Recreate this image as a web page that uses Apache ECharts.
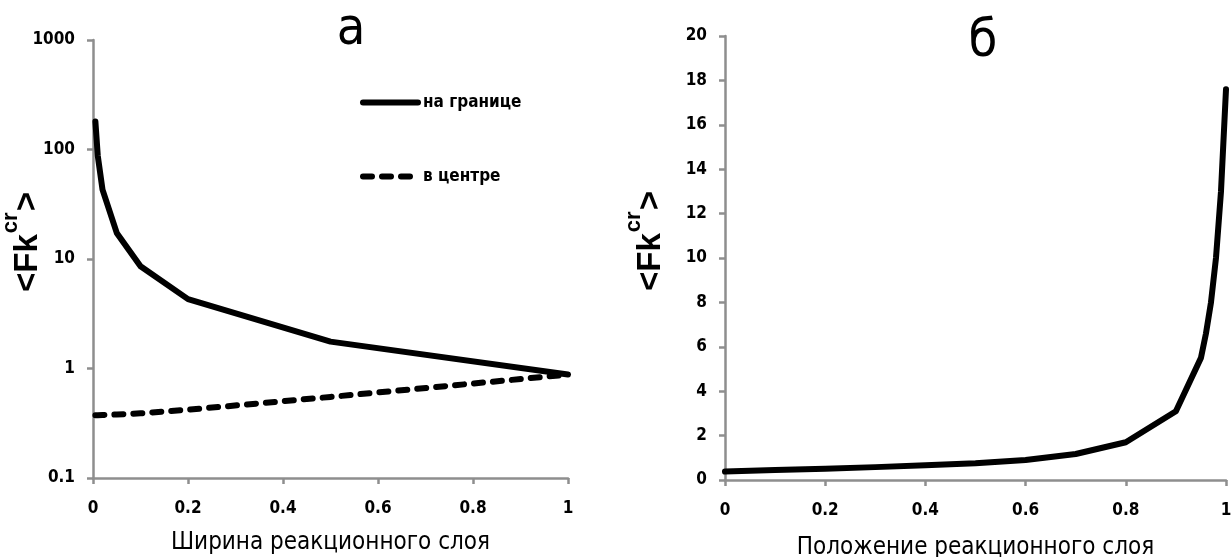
<!DOCTYPE html>
<html>
<head>
<meta charset="utf-8">
<script src="https://cdn.jsdelivr.net/npm/echarts@6/dist/echarts.min.js"></script>
<style>
html,body{margin:0;padding:0;background:#fff;}
#c{width:1232px;height:557px;}
</style>
</head>
<body>
<div id="c"></div>
<script>
// Panel а: log scale
const xA = [0.005, 0.01, 0.02, 0.05, 0.1, 0.2, 0.5, 1];
const boundaryA = [180, 88, 43, 17.3, 8.6, 4.3, 1.76, 0.88];
const centerA = [0.375, 0.375, 0.376, 0.38, 0.39, 0.42, 0.55, 0.88];
const yTicksA = [0.1, 1, 10, 100, 1000];
// Panel б
const xB = [0, 0.1, 0.2, 0.3, 0.4, 0.5, 0.6, 0.7, 0.8, 0.9, 0.95, 0.96, 0.97, 0.98, 0.99, 1];
const valB = [0.38, 0.45, 0.51, 0.58, 0.66, 0.75, 0.9, 1.17, 1.7, 3.1, 5.5, 6.6, 8.0, 10.0, 13.0, 17.6];

const seriesNames = ['на границе', 'в центре'];
const titles = ['а', 'б'];
const xNames = ['Ширина реакционного слоя', 'Положение реакционного слоя'];

const NARROW = "'Liberation Sans Narrow','DejaVu Sans Condensed','Arial Narrow',sans-serif";
const AXIS_GRAY = '#8e8e8e';

function zip(xs, ys) { return xs.map((x, i) => [x, ys[i]]); }

const axisCommon = {
  axisLine: { show: true, onZero: false, lineStyle: { color: AXIS_GRAY, width: 2.5 } },
  axisTick: { show: true, inside: false, length: 6, lineStyle: { color: AXIS_GRAY, width: 2.5 } },
  splitLine: { show: false },
  axisLabel: { color: '#000', fontFamily: NARROW, fontWeight: 'bold', fontSize: 17 }
};

const yName = '{b|<Fk}{s|cr}{b|>}';
const yRich = {
  b: { fontSize: 33, fontWeight: 'bold', fontFamily: "'Liberation Sans',Arial,sans-serif", color: '#000', lineHeight: 44, verticalAlign: 'bottom' },
  s: { fontSize: 22, fontWeight: 'bold', fontFamily: "'Liberation Sans',Arial,sans-serif", color: '#000', lineHeight: 44, verticalAlign: 'top', padding: [0, 1, 0, 1] }
};

const chart = echarts.init(document.getElementById('c'), null, { renderer: 'canvas' });
chart.setOption({
  backgroundColor: '#fff',
  animation: false,
  title: [
    { text: titles[0], left: 346, top: -1, textAlign: 'center',
      textStyle: { fontFamily: NARROW, fontWeight: 'normal', fontSize: 52, color: '#000' } },
    { text: titles[1], left: 978, top: 11, textAlign: 'center',
      textStyle: { fontFamily: NARROW, fontWeight: 'normal', fontSize: 52, color: '#000' } }
  ],
  legend: {
    left: 360, top: 94, padding: 0, orient: 'vertical', itemWidth: 55, itemHeight: 16, itemGap: 57,
    textStyle: { fontFamily: NARROW, fontWeight: 'bold', fontSize: 17, color: '#000' },
    itemStyle: { opacity: 0 },
    lineStyle: { width: 6, cap: 'round' },
    data: seriesNames
  },
  grid: [
    { left: 93, right: 1232 - 568, top: 40, bottom: 557 - 478, containLabel: false, outerBoundsMode: 'none' },
    { left: 725, right: 1232 - 1226, top: 36, bottom: 557 - 480, containLabel: false, outerBoundsMode: 'none' }
  ],
  xAxis: [
    Object.assign({}, axisCommon, {
      gridIndex: 0, type: 'value', min: 0, max: 1, interval: 0.2,
      name: xNames[0], nameLocation: 'middle', nameGap: 53,
      nameTextStyle: { fontFamily: NARROW, fontSize: 24, color: '#000' },
      axisLabel: Object.assign({}, axisCommon.axisLabel, { margin: 22 })
    }),
    Object.assign({}, axisCommon, {
      gridIndex: 1, type: 'value', min: 0, max: 1, interval: 0.2,
      name: xNames[1], nameLocation: 'middle', nameGap: 56,
      nameTextStyle: { fontFamily: NARROW, fontSize: 24, color: '#000' },
      axisLabel: Object.assign({}, axisCommon.axisLabel, { margin: 22 })
    })
  ],
  yAxis: [
    Object.assign({}, axisCommon, {
      gridIndex: 0, type: 'log', logBase: 10, min: yTicksA[0], max: yTicksA[yTicksA.length - 1],
      name: yName, nameLocation: 'middle', nameGap: 49, nameRotate: 90, nameMoveOverlap: false,
      nameTextStyle: { rich: yRich, padding: [0, 0, 0, 34] },
      axisLabel: Object.assign({}, axisCommon.axisLabel, {
        margin: 18,
        formatter: v => String(+Number(v).toPrecision(6))
      })
    }),
    Object.assign({}, axisCommon, {
      gridIndex: 1, type: 'value', min: 0, max: 20, interval: 2,
      name: yName, nameLocation: 'middle', nameGap: 58, nameRotate: 90, nameMoveOverlap: false,
      nameTextStyle: { rich: yRich, padding: [0, 0, 0, 34] },
      axisLabel: Object.assign({}, axisCommon.axisLabel, { margin: 18 })
    })
  ],
  series: [
    { name: seriesNames[0], type: 'line', xAxisIndex: 0, yAxisIndex: 0, showSymbol: false, symbol: 'none',
      data: zip(xA, boundaryA), lineStyle: { color: '#000', width: 6, cap: 'round', join: 'round' }, itemStyle: { color: '#000' } },
    { name: seriesNames[1], type: 'line', xAxisIndex: 0, yAxisIndex: 0, showSymbol: false, symbol: 'none',
      data: zip(xA, centerA), lineStyle: { color: '#000', width: 6, type: [9, 10], cap: 'round', join: 'round' }, itemStyle: { color: '#000' } },
    { name: 'б', type: 'line', xAxisIndex: 1, yAxisIndex: 1, showSymbol: false, symbol: 'none',
      data: zip(xB, valB), lineStyle: { color: '#000', width: 6, cap: 'round', join: 'round' }, itemStyle: { color: '#000' } }
  ]
});
</script>
</body>
</html>
